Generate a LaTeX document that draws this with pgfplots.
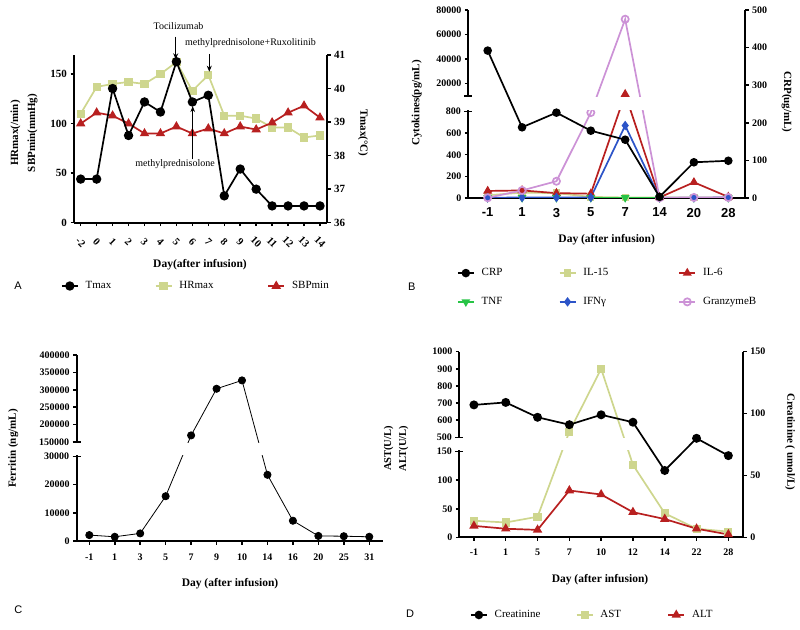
\documentclass[border=0pt]{standalone}
\usepackage{fontspec}
\setmainfont{Liberation Serif}
\newfontfamily\arialfont{Liberation Sans}
\usepackage{pgfplots}
\pgfplotsset{compat=1.18}
\usetikzlibrary{arrows.meta}
\definecolor{hrc}{RGB}{206,214,142}
\definecolor{redc}{RGB}{184,32,32}
\definecolor{tnfc}{RGB}{40,196,70}
\definecolor{ifnc}{RGB}{44,84,200}
\definecolor{grzc}{RGB}{204,146,214}
\pgfplotsset{
  gp/.style={scale only axis, anchor=south west,
    axis line style={-, line width=1.8pt},
    tick style={black, line width=1.5pt},
    tick align=outside, major tick length=3.5pt,
    ticklabel style={font=\fontsize{10}{12}\selectfont\bfseries},
    /pgf/number format/assume math mode=true,
    /pgf/number format/fixed,
    /pgf/number format/1000 sep={},
    scaled y ticks=false, scaled x ticks=false,
    minor tick num=0, clip=true},
  brk/.style={extra y tick style={tick align=center, major tick length=8pt}},
  gpleg/.style={legend cell align=left,
    legend style={draw=none, fill=none, inner sep=0pt, outer sep=0pt, anchor=west,
      font=\fontsize{11}{12}\selectfont, nodes={inner sep=0pt}},
    legend image code/.code={\draw[mark repeat=2,mark phase=2,##1] plot coordinates {(0pt,0pt) (8pt,0pt) (16pt,0pt)}; \path (0pt,0pt) (23pt,0pt);}},
  ser/.style={line width=1.7pt, mark size=3.4pt, mark options={solid}},
}
\begin{document}
\begin{tikzpicture}
\useasboundingbox (0pt,0pt) rectangle (800pt,629pt);
% ================= Panel A =================
\begin{axis}[gp, gpleg, at={(74pt,406.3pt)}, width=253pt, height=167.7pt,
  xmin=-0.42, xmax=15.44, ymin=0, ymax=169.2,
  axis x line*=bottom, axis y line*=left,
  ticklabel style={font=\fontsize{11}{12}\selectfont\bfseries},
  ytick={0,50,100,150}, xtick={0,...,15},
  xticklabels={-2,0,1,2,3,4,5,6,7,8,9,10,11,12,13,14},
  xticklabel style={font=\fontsize{10.5}{12}\selectfont\bfseries, anchor=center, yshift=-16pt, rotate=-45},
  legend columns=3, legend style={at={(-0.0514,-0.3775)}}]
\addlegendimage{ser, black, mark=*, mark size=3.8pt}
\addlegendentry{\makebox[69pt][l]{Tmax}}
\addplot[ser, hrc, mark=square*, mark size=3.3pt] coordinates {(0,110)(1,137)(2,140)(3,142)(4,140)(5,150)(6,162)(7,133)(8,149)(9,108)(10,108)(11,105)(12,96)(13,96)(14,86)(15,88)};
\addlegendentry{\makebox[88pt][l]{HRmax}}
\addplot[ser, redc, mark=triangle*, mark size=3.8pt] coordinates {(0,100)(1,111)(2,108)(3,100)(4,90)(5,90)(6,97)(7,90)(8,95)(9,90)(10,97)(11,94)(12,101)(13,111)(14,118)(15,106)};
\addlegendentry{SBPmin}
\end{axis}
\begin{axis}[gp, at={(74pt,406.3pt)}, width=253pt, height=167.7pt,
  xmin=-0.42, xmax=15.44, ymin=36, ymax=41, xtick=\empty,
  ticklabel style={font=\fontsize{11}{12}\selectfont\bfseries},
  axis x line=none, axis y line*=right, ytick={36,37,38,39,40,41}]
\addplot[ser, black, mark=*, mark size=3.8pt] coordinates {(0,37.3)(1,37.3)(2,40.0)(3,38.6)(4,39.6)(5,39.3)(6,40.8)(7,39.6)(8,39.8)(9,36.8)(10,37.6)(11,37.0)(12,36.5)(13,36.5)(14,36.5)(15,36.5)};
\end{axis}
\node[rotate=90, align=center, font=\bfseries\fontsize{11}{17}\selectfont] at (24pt,496pt) {HRmax(/min)\\SBPmin(mmHg)};
\node[rotate=-90, font=\bfseries\fontsize{11}{13}\selectfont] at (363pt,496pt) {Tmax(°C)};
\node[font=\bfseries\fontsize{11.5}{13}\selectfont] at (200pt,364pt) {Day(after infusion)};
\node[font=\arialfont\fontsize{11}{13}\selectfont] at (18pt,343pt) {A};
\node[font=\fontsize{10}{12}\selectfont] at (178.5pt,603pt) {Tocilizumab};
\node[font=\fontsize{10}{12}\selectfont] at (250.5pt,586.3pt) {methylprednisolone+Ruxolitinib};
\node[font=\fontsize{10}{12}\selectfont] at (175pt,465pt) {methylprednisolone};
\draw[line width=1.4pt, -{Stealth[length=6pt,width=5pt]}] (175.7pt,592.3pt) -- (175.7pt,569.7pt);
\draw[line width=1.4pt, -{Stealth[length=6pt,width=5pt]}] (209.3pt,575pt) -- (209.3pt,557.3pt);
\draw[line width=1pt, -{Stealth[length=6pt,width=4.5pt]}] (192.7pt,469.7pt) -- (192.7pt,523pt);
% ================= Panel B =================
\begin{axis}[gp, gpleg, brk, at={(468.3pt,431pt)}, width=276.7pt, height=188pt,
  xmin=-0.564, xmax=7.486, ymin=0, ymax=1738.72,
  axis x line*=bottom, axis y line*=left,
  y filter/.expression={y<=800 ? y : (y>=10000 ? 943.35+(y-10000)*0.011362 : 800+(y-800)*143.35/9200)},
  ytick={0,200,400,600,1056.97,1284.22,1511.47,1738.72},
  yticklabels={0,200,400,600,20000,40000,60000,80000},
  extra y ticks={800,943.35}, extra y tick labels={800,{}},
  xtick={0,...,7}, xticklabels={-1,1,3,5,7,14,20,28},
  xticklabel style={font=\arialfont\bfseries\fontsize{13}{14}\selectfont, yshift=-3pt},
  legend columns=3, legend style={at={(-0.0408,-0.476)}, row sep=20pt}]
\addlegendimage{ser, black, mark=*}
\addlegendentry{\makebox[77pt][l]{CRP}}
\addplot[ser, hrc, mark=square*, mark size=2.8pt] coordinates {(0,25)(1,50)(2,45)(3,10)(4,5)(5,5)(6,5)(7,5)};
\addlegendentry{\makebox[95pt][l]{IL-15}}
\addplot[ser, redc, mark=triangle*, mark size=3.6pt] coordinates {(0,65)(1,70)(2,45)(3,40)(4,11500)(5,5)(6,145)(7,10)};
\addlegendentry{IL-6}
\addplot[ser, tnfc, mark=triangle*, mark size=3.4pt, mark options={rotate=180}] coordinates {(0,3)(1,3)(2,3)(3,3)(4,3)(5,3)(6,3)(7,3)};
\addlegendentry{\makebox[77pt][l]{TNF}}
\addplot[ser, ifnc, mark=diamond*, mark size=3.4pt] coordinates {(0,2)(1,5)(2,5)(3,5)(4,670)(5,2)(6,2)(7,5)};
\addlegendentry{\makebox[95pt][l]{IFNγ}}
\addplot[ser, grzc, mark=o, mark size=3.6pt] coordinates {(0,2)(1,70)(2,155)(3,790)(4,72500)(5,2)(6,5)(7,5)};
\addlegendentry{GranzymeB}
\end{axis}
\fill[white] (465pt,518.8pt) rectangle (745pt,531.8pt);
\begin{axis}[gp, at={(468.3pt,431pt)}, width=276.7pt, height=188pt,
  xmin=-0.564, xmax=7.486, ymin=0, ymax=500, xtick=\empty,
  axis x line=none, axis y line*=right, ytick={0,100,200,300,400,500}]
\addplot[ser, black, mark=*] coordinates {(0,392)(1,188)(2,227)(3,179)(4,155)(5,3)(6,95)(7,99)};
\end{axis}
\node[rotate=90, font=\bfseries\fontsize{11}{13}\selectfont] at (416.7pt,526pt) {Cytokines(pg/mL)};
\node[rotate=-90, font=\bfseries\fontsize{11}{13}\selectfont] at (786.7pt,527pt) {CRP(ug/mL)};
\node[font=\bfseries\fontsize{11.5}{13}\selectfont] at (606.7pt,389pt) {Day (after infusion)};
\node[font=\arialfont\fontsize{11}{13}\selectfont] at (411.7pt,342.3pt) {B};
% ================= Panel C =================
\begin{axis}[gp, brk, at={(76.7pt,88pt)}, width=306.3pt, height=186pt,
  xmin=-0.495, xmax=11.54, ymin=0, ymax=66035.5,
  axis x line*=bottom, axis y line*=left,
  y filter/.expression={y<=30000 ? y : (y>=150000 ? 35148+(y-150000)*0.12355 : 30000+(y-30000)*5148/120000)},
  ytick={0,10000,20000,41325.5,47503,53680.5,59858,66035.5},
  yticklabels={0,10000,20000,200000,250000,300000,350000,400000},
  extra y ticks={30000,35148}, extra y tick labels={30000,150000},
  xtick={0,...,11}, xticklabels={-1,1,3,5,7,9,10,14,16,20,25,31},
  xticklabel style={yshift=-6pt}]
\addplot[black, line width=0.8pt, mark=*, mark size=3.6pt] coordinates {(0,2100)(1,1500)(2,2700)(3,15900)(4,169000)(5,303000)(6,327000)(7,23500)(8,7200)(9,1800)(10,1700)(11,1500)};
\end{axis}
\fill[white] (73pt,173.8pt) rectangle (386pt,185.8pt);
\node[rotate=90, font=\bfseries\fontsize{11}{13}\selectfont] at (13.3pt,180.5pt) {Ferritin (ng/mL)};
\node[font=\bfseries\fontsize{11.5}{13}\selectfont] at (230pt,45.7pt) {Day (after infusion)};
\node[font=\arialfont\fontsize{11}{13}\selectfont] at (18.3pt,19pt) {C};
% ================= Panel D =================
\begin{axis}[gp, gpleg, brk, at={(459.3pt,91.7pt)}, width=284pt, height=185.6pt,
  xmin=-0.46, xmax=8.47, ymin=0, ymax=325.23,
  axis x line*=bottom, axis y line*=left,
  y filter/.expression={y<=150 ? y : (y>=500 ? 175.23+(y-500)*0.3 : 150+(y-150)*25.23/350)},
  ytick={0,50,100,205.23,235.23,265.23,295.23,325.23},
  yticklabels={0,50,100,600,700,800,900,1000},
  extra y ticks={150,175.23}, extra y tick labels={150,500},
  xtick={0,...,8}, xticklabels={-1,1,5,7,10,12,14,22,28},
  xticklabel style={yshift=-5pt},
  legend columns=3, legend style={at={(0.0377,-0.4186)}}]
\addlegendimage{ser, black, mark=*}
\addlegendentry{\makebox[81pt][l]{Creatinine}}
\addplot[ser, hrc, mark=square*, mark size=3.2pt] coordinates {(0,29)(1,26)(2,36)(3,533)(4,900)(5,127)(6,42)(7,15)(8,10)};
\addlegendentry{\makebox[67pt][l]{AST}}
\addplot[ser, redc, mark=triangle*, mark size=3.8pt] coordinates {(0,20)(1,15)(2,13)(3,82)(4,75)(5,44)(6,32)(7,15)(8,5)};
\addlegendentry{ALT}
\end{axis}
\fill[white] (456pt,178.6pt) rectangle (743.3pt,190.8pt);
\begin{axis}[gp, at={(459.3pt,91.7pt)}, width=284pt, height=185.6pt,
  xmin=-0.46, xmax=8.47, ymin=0, ymax=150, xtick=\empty,
  axis x line=none, axis y line*=right, ytick={0,50,100,150}]
\addplot[ser, black, mark=*, mark size=3.6pt] coordinates {(0,107)(1,109)(2,97)(3,91)(4,99)(5,93)(6,54)(7,80)(8,66)};
\end{axis}
\node[rotate=90, align=center, font=\bfseries\fontsize{10.5}{15}\selectfont] at (396pt,180.5pt) {AST(U/L)\\ALT(U/L)};
\node[rotate=-90, font=\bfseries\fontsize{11}{13}\selectfont] at (790pt,187.3pt) {Creatinine ( umol/L)};
\node[font=\bfseries\fontsize{11.5}{13}\selectfont] at (600pt,49.7pt) {Day (after infusion)};
\node[font=\arialfont\fontsize{11}{13}\selectfont] at (410pt,15.7pt) {D};
\end{tikzpicture}
\end{document}
